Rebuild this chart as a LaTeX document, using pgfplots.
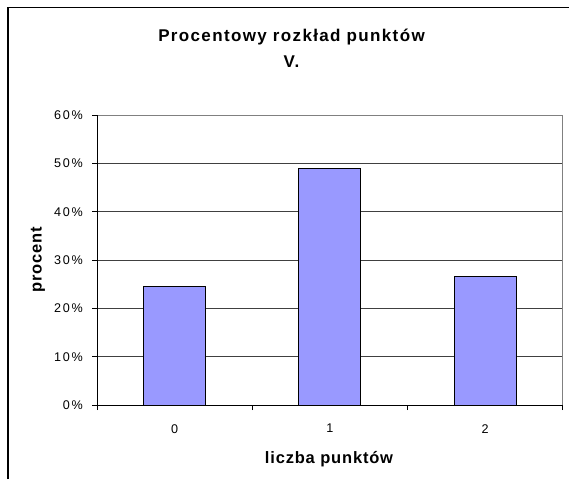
\documentclass[border=0pt]{standalone}
\usepackage{pgfplots}
\pgfplotsset{compat=1.18}
\usepackage{fontspec}
\setmainfont{Liberation Sans}
\newfontfamily\titlefont[LetterSpace=8]{Liberation Sans}
\newfontfamily\labfont[LetterSpace=5]{Liberation Sans}
\newfontfamily\tickfont[LetterSpace=14]{Liberation Sans}
\definecolor{barblue}{RGB}{153,153,255}
\begin{document}
\begin{tikzpicture}[x=1pt,y=1pt]
\useasboundingbox (0,0) rectangle (569,479);
\draw[line width=1.4pt] (8,0) -- (8,471.5) -- (580,471.5);
\begin{axis}[
  at={(97pt,74pt)}, anchor=south west,
  scale only axis, width=465.7pt, height=290pt,
  xmin=-0.5, xmax=2.5, ymin=0, ymax=60,
  ytick={0,10,...,60},
  yticklabel={\pgfmathprintnumber{\tick}\%},
  xtick={0,1,2}, xticklabels={0,1,2},
  minor xtick={-0.5,0.5,1.5,2.5},
  major x tick style={draw=none},
  tick align=outside, tick pos=left,
  major tick length=5pt, minor tick length=5pt,
  tick style={black, line width=0.8pt},
  axis line style={draw=gray, line width=0.8pt},
  ymajorgrids,
  grid style={black!75, line width=0.8pt},
  every tick label/.append style={font=\tickfont\fontsize{12.6}{14}\selectfont},
  yticklabel style={inner sep=0pt, anchor=east, xshift=-9pt},
  xticklabel style={inner sep=0pt, anchor=north, yshift=-14pt},
  /pgf/number format/assume math mode=true,
  clip=false,
]
\addplot[ybar, bar width=62pt, fill=barblue, draw=black, line width=0.8pt]
  coordinates {(0,24.5) (1,49.0) (2,26.6)};
\draw[black, line width=0.9pt] (rel axis cs:0,1) -- (rel axis cs:0,0) -- (rel axis cs:1,0);
\end{axis}
\node[font=\titlefont\fontsize{17}{20}\selectfont\bfseries] at (291.5,441.5) {Procentowy rozkład punktów};
\node[font=\titlefont\fontsize{17}{20}\selectfont\bfseries] at (291.5,417) {V.};
\node[font=\labfont\fontsize{16.5}{20}\selectfont\bfseries, rotate=90] at (38,219) {procent};
\node[font=\labfont\fontsize{16.5}{20}\selectfont\bfseries] at (329,20) {liczba punktów};
\end{tikzpicture}
\end{document}
